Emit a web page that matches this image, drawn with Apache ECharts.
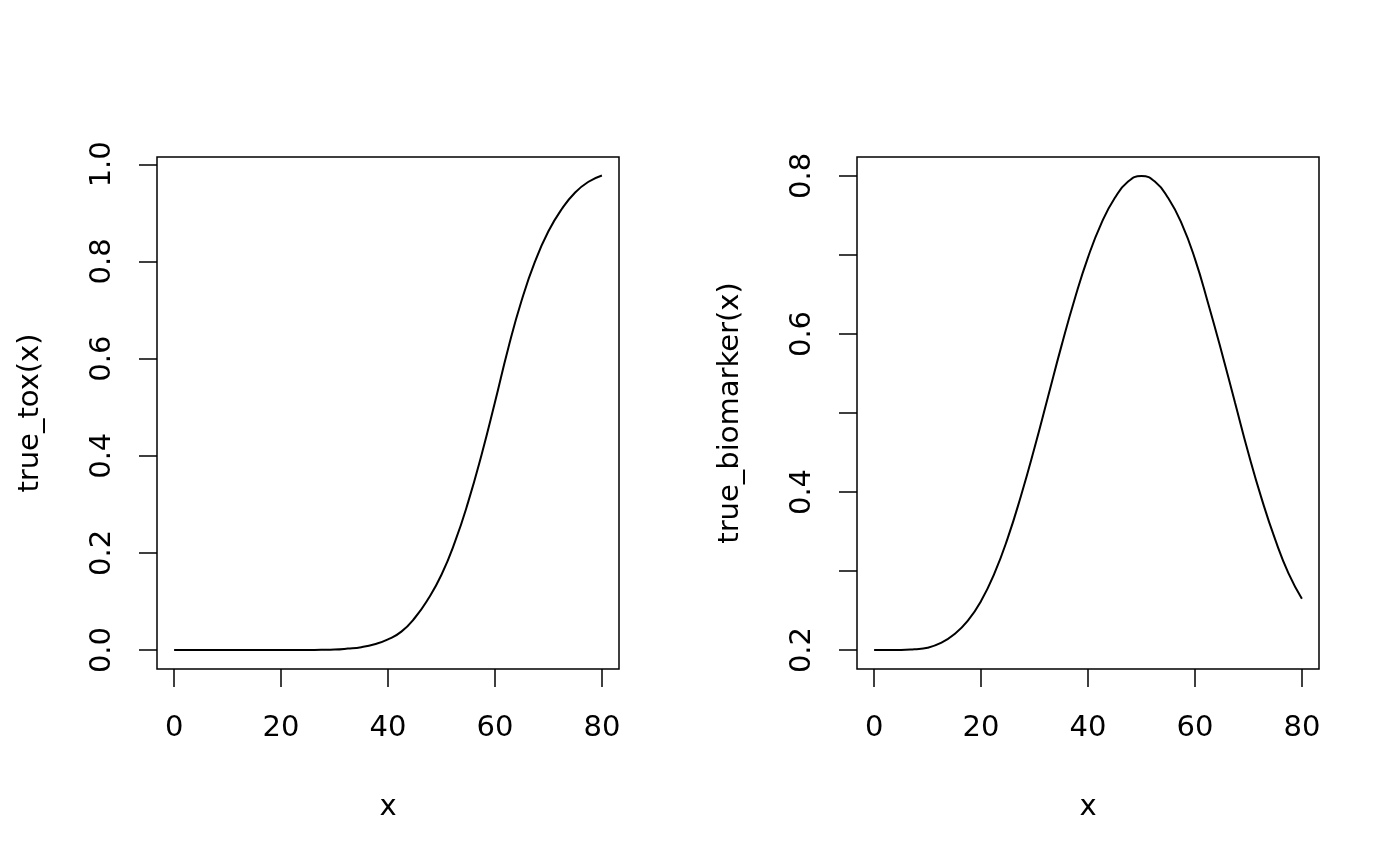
<!DOCTYPE html>
<html>
<head>
<meta charset="utf-8">
<title>true_tox / true_biomarker</title>
<script src="https://cdn.jsdelivr.net/npm/echarts@6/dist/echarts.min.js"></script>
<style>
  html, body { margin: 0; padding: 0; background: #fff; }
  #main { width: 1400px; height: 866px; }
</style>
</head>
<body>
<div id="main"></div>
<script>
// dose grid shared by both curves
const xValues = [0, 2.5, 5, 7.5, 10, 12.5, 15, 17.5, 20, 22.5, 25, 27.5, 30, 32.5, 35, 37.5,
  40, 42.5, 45, 47.5, 50, 52.5, 55, 57.5, 60, 62.5, 65, 67.5, 70, 72.5, 75, 77.5, 80];

const toxValues = [0, 0, 0, 0, 0, 0, 0, 0, 0, 0, 0.0002, 0.0005, 0.001, 0.003, 0.006, 0.012,
  0.022, 0.038, 0.066, 0.105, 0.155, 0.222, 0.305, 0.402, 0.51, 0.622, 0.72, 0.80,
  0.862, 0.908, 0.942, 0.964, 0.977];

const biomarkerValues = [0.2, 0.2, 0.2, 0.201, 0.203, 0.209, 0.220, 0.237, 0.262, 0.297,
  0.342, 0.396, 0.456, 0.520, 0.584, 0.644, 0.697, 0.740, 0.772, 0.793, 0.800, 0.793,
  0.772, 0.740, 0.695, 0.638, 0.577, 0.513, 0.449, 0.391, 0.340, 0.297, 0.265];

const xTicks = [0, 20, 40, 60, 80];
const toxTicks = [0, 0.2, 0.4, 0.6, 0.8, 1.0];
const biomarkerTicks = [0.2, 0.3, 0.4, 0.5, 0.6, 0.7, 0.8];
const biomarkerLabels = [0.2, 0.4, 0.6, 0.8];

const font = 'DejaVu Sans';
const fontSize = 29;

let myChart = echarts.init(document.getElementById('main'));

function xAxisFor(gridIndex) {
  return {
    type: 'value',
    gridIndex: gridIndex,
    min: -3.2,
    max: 83.2,
    name: 'x',
    nameLocation: 'middle',
    nameGap: 124,
    nameTextStyle: { color: '#000', fontFamily: font, fontSize: fontSize },
    axisLine: { show: false, onZero: false },
    splitLine: { show: false },
    axisTick: {
      show: true, length: 18, customValues: xTicks,
      lineStyle: { color: '#000', width: 1.5 }
    },
    axisLabel: {
      customValues: xTicks, margin: 45, color: '#000',
      fontFamily: font, fontSize: fontSize
    }
  };
}

function yAxisFor(gridIndex, name, min, max, ticks, labels) {
  return {
    type: 'value',
    gridIndex: gridIndex,
    min: min,
    max: max,
    name: name,
    nameLocation: 'middle',
    nameRotate: 90,
    nameGap: 112,
    nameTextStyle: { color: '#000', fontFamily: font, fontSize: fontSize },
    axisLine: { show: false, onZero: false },
    splitLine: { show: false },
    axisTick: {
      show: true, length: 18, customValues: ticks,
      lineStyle: { color: '#000', width: 1.5 }
    },
    axisLabel: {
      customValues: labels, rotate: 90, margin: 40, color: '#000',
      fontFamily: font, fontSize: fontSize,
      formatter: function (v) { return v.toFixed(1); }
    }
  };
}

function pairs(ys) {
  return xValues.map(function (x, i) { return [x, ys[i]]; });
}

const frame = { show: true, borderColor: '#000', borderWidth: 1.5, backgroundColor: 'transparent' };

myChart.setOption({
  animation: false,
  backgroundColor: '#fff',
  grid: [
    Object.assign({ left: 157, top: 157, width: 462, height: 512 }, frame),
    Object.assign({ left: 857, top: 157, width: 462, height: 512 }, frame)
  ],
  xAxis: [xAxisFor(0), xAxisFor(1)],
  yAxis: [
    yAxisFor(0, 'true_tox(x)', -0.039, 1.015, toxTicks, toxTicks),
    yAxisFor(1, 'true_biomarker(x)', 0.176, 0.824, biomarkerTicks, biomarkerLabels)
  ],
  series: [
    {
      type: 'line', xAxisIndex: 0, yAxisIndex: 0,
      data: pairs(toxValues),
      smooth: 0.5, showSymbol: false,
      lineStyle: { color: '#000', width: 2 }
    },
    {
      type: 'line', xAxisIndex: 1, yAxisIndex: 1,
      data: pairs(biomarkerValues),
      smooth: 0.5, showSymbol: false,
      lineStyle: { color: '#000', width: 2 }
    }
  ]
});
</script>
</body>
</html>
